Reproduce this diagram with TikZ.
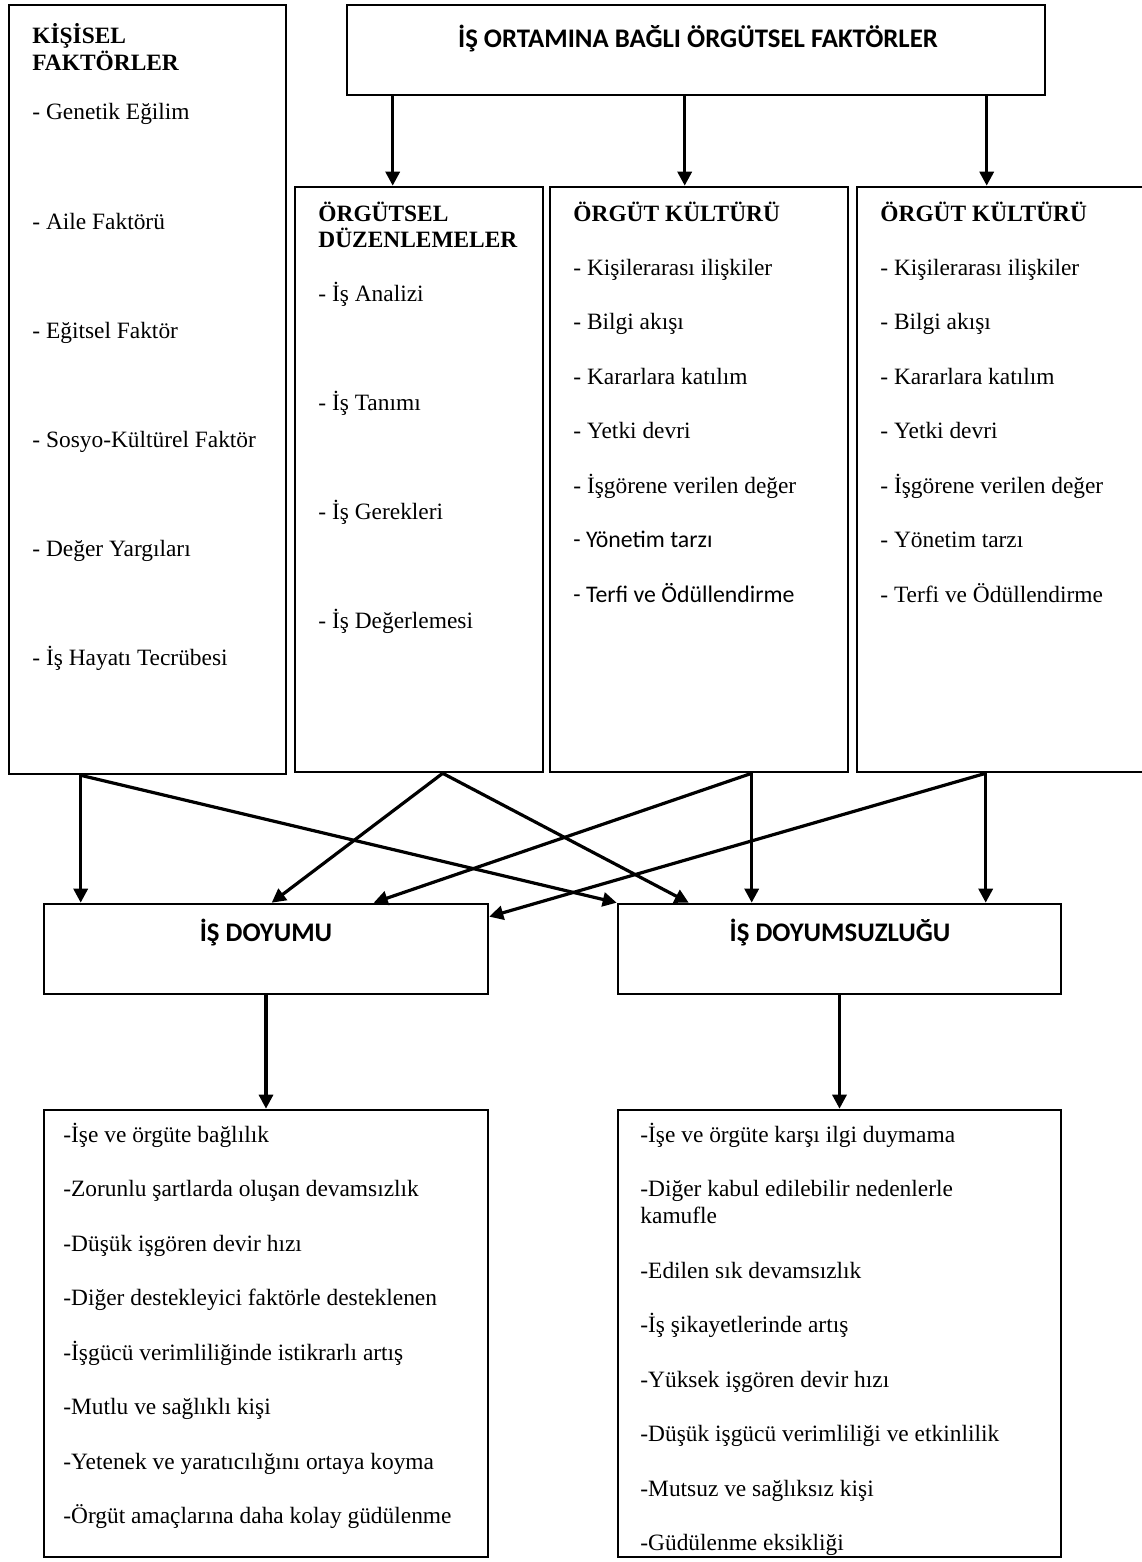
\documentclass[tikz,border=0pt]{standalone}
\usepackage{fontspec}
\setmainfont{Liberation Serif}
\newfontfamily\calfont{Carlito}
\usetikzlibrary{arrows.meta,fit,calc}
\begin{document}
\begin{tikzpicture}[x=0.5pt,y=-0.5pt,
  boxst/.style={draw, line width=1.3pt, inner sep=0pt},
  arr/.style={line width=1.6pt, -{Triangle[length=7pt,width=7pt]}},
  itm/.style={anchor=base west, inner sep=0pt, font=\fontsize{11.7}{14}\selectfont},
  hdr/.style={anchor=base west, inner sep=0pt, font=\fontsize{11.7}{14}\selectfont\bfseries},
  cal/.style={anchor=base west, inner sep=0pt, font=\fontsize{11.9}{14}\selectfont\calfont},
  calh/.style={anchor=base, inner sep=0pt, font=\fontsize{13.4}{16}\selectfont\calfont\bfseries}
]
\useasboundingbox (0,0) rectangle (1141,1562);

% boxes
\node[boxst, fit={(9,5) (286,774)}] (K) {};
\node[boxst, fit={(347,5) (1045,95)}] (T) {};
\node[boxst, fit={(295,187) (543,772)}] (D2) {};
\node[boxst, fit={(550,187) (848,772)}] (D3) {};
\node[boxst, fit={(857,187) (1160,772)}] (D4) {};
\node[boxst, fit={(44,904) (488,994)}] (DY) {};
\node[boxst, fit={(618,904) (1061,994)}] (DS) {};
\node[boxst, fit={(44,1110) (488,1557)}] (BL) {};
\node[boxst, fit={(618,1110) (1061,1557)}] (BR) {};

% top heading
\node[calh] (tt) at (698,48) {İŞ ORTAMINA BAĞLI ÖRGÜTSEL FAKTÖRLER};

% left box
\node[hdr] (k0a) at (32,44) {KİŞİSEL};
\node[hdr] (k0b) at (32,71) {FAKTÖRLER};
\node[itm] (k1) at (32,120) {- Genetik Eğilim};
\node[itm] (k2) at (32,229) {- Aile Faktörü};
\node[itm] (k3) at (32,338) {- Eğitsel Faktör};
\node[itm] (k4) at (32,447) {- Sosyo-Kültürel Faktör};
\node[itm] (k5) at (32,556) {- Değer Yargıları};
\node[itm] (k6) at (32,665) {- İş Hayatı Tecrübesi};

% box 2
\node[hdr] (a0a) at (318,221) {ÖRGÜTSEL};
\node[hdr] (a0b) at (318,248) {DÜZENLEMELER};
\node[itm] (a1) at (318,301) {- İş Analizi};
\node[itm] (a2) at (318,410) {- İş Tanımı};
\node[itm] (a3) at (318,519) {- İş Gerekleri};
\node[itm] (a4) at (318,628) {- İş Değerlemesi};

% box 3
\node[hdr] (b0) at (573,221) {ÖRGÜT KÜLTÜRÜ};
\node[itm] (b1) at (573,275) {- Kişilerarası ilişkiler};
\node[itm] (b2) at (573,329.5) {- Bilgi akışı};
\node[itm] (b3) at (573,384) {- Kararlara katılım};
\node[itm] (b4) at (573,438.5) {- Yetki devri};
\node[itm] (b5) at (573,493) {- İşgörene verilen değer};
\node[cal] (b6) at (573,547.5) {- Yönetim tarzı};
\node[cal] (b7) at (573,602) {- Terfi ve Ödüllendirme};

% box 4
\node[hdr] (c0) at (880,221) {ÖRGÜT KÜLTÜRÜ};
\node[itm] (c1) at (880,275) {- Kişilerarası ilişkiler};
\node[itm] (c2) at (880,329.5) {- Bilgi akışı};
\node[itm] (c3) at (880,384) {- Kararlara katılım};
\node[itm] (c4) at (880,438.5) {- Yetki devri};
\node[itm] (c5) at (880,493) {- İşgörene verilen değer};
\node[itm] (c6) at (880,547.5) {- Yönetim tarzı};
\node[itm] (c7) at (880,602) {- Terfi ve Ödüllendirme};

% result boxes
\node[calh] (dyt) at (266,941) {İŞ DOYUMU};
\node[calh] (dst) at (840,941) {İŞ DOYUMSUZLUĞU};

% bottom left
\node[itm] (l1) at (63,1142) {-İşe ve örgüte bağlılık};
\node[itm] (l2) at (63,1196.5) {-Zorunlu şartlarda oluşan devamsızlık};
\node[itm] (l3) at (63,1251) {-Düşük işgören devir hızı};
\node[itm] (l4) at (63,1305.5) {-Diğer destekleyici faktörle desteklenen};
\node[itm] (l5) at (63,1360) {-İşgücü verimliliğinde istikrarlı artış};
\node[itm] (l6) at (63,1414.5) {-Mutlu ve sağlıklı kişi};
\node[itm] (l7) at (63,1469) {-Yetenek ve yaratıcılığını ortaya koyma};
\node[itm] (l8) at (63,1523.5) {-Örgüt amaçlarına daha kolay güdülenme};

% bottom right
\node[itm] (r1) at (640,1142) {-İşe ve örgüte karşı ilgi duymama};
\node[itm] (r2) at (640,1196.5) {-Diğer kabul edilebilir nedenlerle};
\node[itm] (r2b) at (640,1223.5) {kamufle};
\node[itm] (r3) at (640,1278) {-Edilen sık devamsızlık};
\node[itm] (r4) at (640,1332.5) {-İş şikayetlerinde artış};
\node[itm] (r5) at (640,1387) {-Yüksek işgören devir hızı};
\node[itm] (r6) at (640,1441.5) {-Düşük işgücü verimliliği ve etkinlilik};
\node[itm] (r7) at (640,1496) {-Mutsuz ve sağlıksız kişi};
\node[itm] (r8) at (640,1550.5) {-Güdülenme eksikliği};

% connection points
\coordinate (t1) at ([xshift=23.5pt]T.south west);
\coordinate (t2) at ([xshift=169.5pt]T.south west);
\coordinate (t3) at ([xshift=320.5pt]T.south west);
\coordinate (pk) at ([xshift=36.5pt]K.south west);
\coordinate (p2) at ([xshift=74.5pt]D2.south west);
\coordinate (p3) at ([xshift=101.5pt]D3.south west);
\coordinate (p4) at ([xshift=65pt]D4.south west);

% top arrows
\draw[arr] (t1) -- (t1 |- D2.north);
\draw[arr] (t2) -- (t2 |- D3.north);
\draw[arr] (t3) -- (t3 |- D4.north);

% middle arrows
\draw[arr] (pk) -- (pk |- DY.north);
\draw[arr] (pk) -- (DS.north west);
\draw[arr] (p2) -- ([xshift=114.5pt]DY.north west);
\draw[arr] (p2) -- ([xshift=36pt]DS.north west);
\draw[arr] (p3) -- ([xshift=165.5pt]DY.north west);
\draw[arr] (p3) -- (p3 |- DS.north);
\draw[arr] (p4) -- ([yshift=-7pt]DY.north east);
\draw[arr] (p4) -- (p4 |- DS.north);

% bottom arrows
\draw[arr] (DY.south) -- (BL.north);
\draw[arr] (DS.south) -- (BR.north);
\end{tikzpicture}
\end{document}
